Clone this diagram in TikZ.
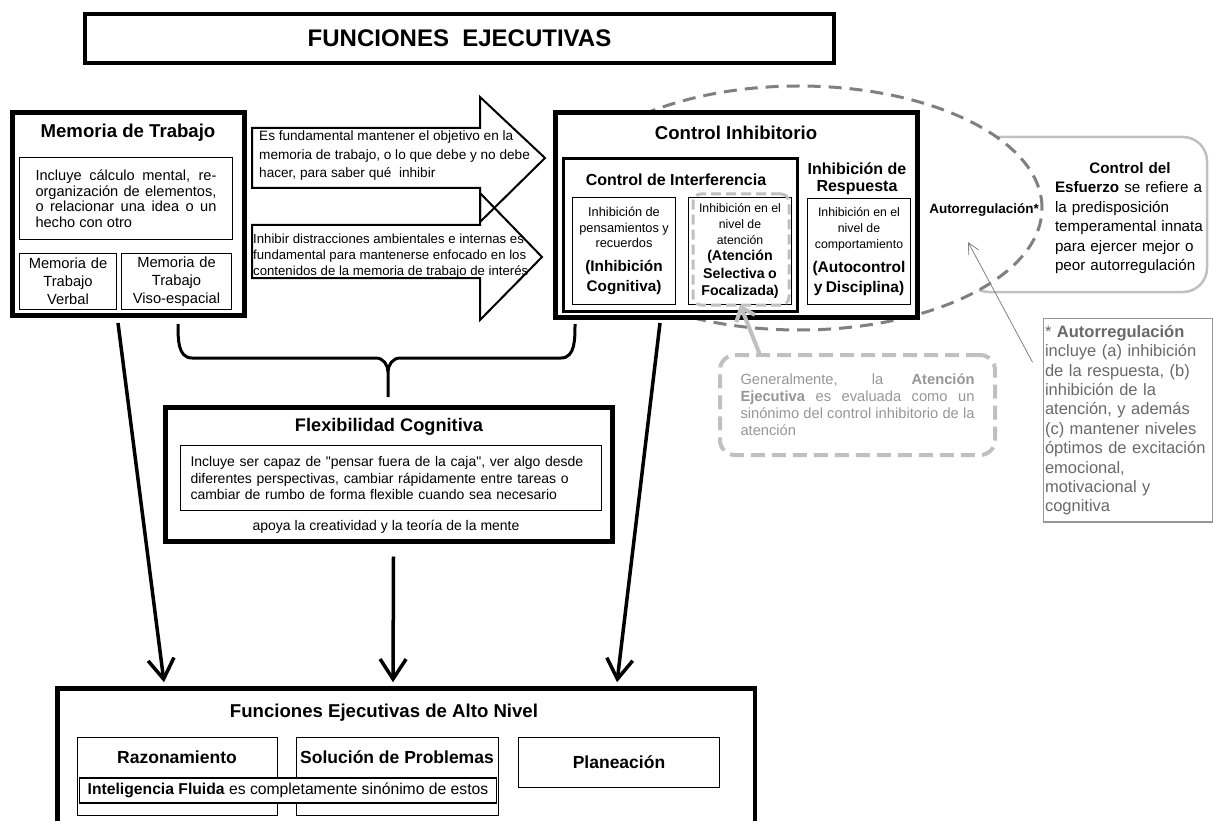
\documentclass[tikz,border=0pt]{standalone}
\usepackage{fontspec}
\setmainfont{Liberation Sans}
\usepackage{tikz}
\usetikzlibrary{arrows.meta,shapes.geometric}
\usepackage{xcolor}
\definecolor{ringgray}{RGB}{128,128,128}
\definecolor{softgray}{RGB}{192,192,192}
\definecolor{notegray}{RGB}{105,105,105}
\definecolor{palegray}{RGB}{150,150,150}
\newcommand{\setfs}[2]{\fontsize{#1}{#2}\selectfont}

\begin{document}
\begin{tikzpicture}[
    x=1pt, y=-1pt,
    frame/.style={rectangle, draw, line width=4.5pt, fill=white,
        inner sep=0pt, outer sep=0pt, anchor=north west},
    cell/.style={rectangle, draw, line width=1pt, fill=white,
        inner sep=0pt, outer sep=0pt, anchor=north west},
    txt/.style={inner sep=0pt, align=center},
    heading/.style={font=\bfseries\setfs{18.6}{22}},
    banner/.style={draw, line width=2pt, line join=miter},
    bigarrow/.style={line width=3.5pt, -{Straight Barb[length=20pt,width=26pt]}}
]
    \useasboundingbox (0,0) rectangle (1213,821);

    % title
    \node[frame, line width=4pt, minimum width=749pt, minimum height=49pt,
        font=\bfseries\setfs{24}{28}] (title) at (85,14) {FUNCIONES\ \ EJECUTIVAS};

    % effortful control and the self-regulation ring
    \node[draw=softgray, line width=2.5pt, rounded corners=24pt, anchor=north west,
        inner sep=0pt, outer sep=0pt, minimum width=242pt, minimum height=155pt] (effort) at (965,137) {};
    \node[ellipse, draw=ringgray, fill=white, line width=3pt, dash pattern=on 13pt off 8pt,
        minimum width=486pt, minimum height=244pt] (selfreg) at (799,208) {};

    % the two wide arrows
    \draw[banner] (252,128) -- (480,128) -- (480,97) -- (545,158) -- (480,222) -- (480,188) -- (252,188) -- cycle;
    \draw[banner] (252,225) -- (480,225) -- (480,193) -- (542,257) -- (480,320) -- (480,278) -- (252,278) -- cycle;
    \node[txt, anchor=west, align=left, font=\setfs{13.6}{18.3}] (goaltxt) at (259,155.5)
        {Es fundamental mantener el objetivo en la\\memoria de trabajo, o lo que debe y no debe\\hacer, para saber qué\ \ inhibir};
    \node[txt, anchor=west, align=left, font=\setfs{13.2}{16.3}] (focustxt) at (253,256)
        {Inhibir distracciones ambientales e internas es\\fundamental para mantenerse enfocado en los\\contenidos de la memoria de trabajo de interés};

    % working memory
    \node[frame, line width=5pt, minimum width=232pt, minimum height=203pt] (mem) at (12.5,112.5) {};
    \node[txt, heading] (memhead) at (128,133) {Memoria de Trabajo};
    \node[cell, minimum width=213pt, minimum height=82pt, text width=181pt, align=justify,
        font=\setfs{14.6}{15.5}] (memtxt) at (19.5,157.5)
        {Incluye cálculo mental, re-\linebreak organización de elementos,\linebreak o relacionar una idea o un\linebreak hecho con otro\par};
    \node[cell, minimum width=97pt, minimum height=56pt, text width=95pt, align=center,
        font=\setfs{14.7}{18}] (verbal) at (19.5,253.5) {Memoria de\\Trabajo\\Verbal};
    \node[cell, minimum width=110pt, minimum height=56pt, text width=108pt, align=center,
        font=\setfs{14.7}{18}] (visual) at (121.5,253.5) {Memoria de\\Trabajo\\Viso-espacial};

    % inhibitory control
    \node[frame, line width=5pt, minimum width=362pt, minimum height=205pt] (inhib) at (555.5,112.5) {};
    \node[txt, heading] (inhibhead) at (736,133) {Control Inhibitorio};
    \node[frame, line width=3pt, minimum width=234pt, minimum height=153pt] (interf) at (563.5,158.5) {};
    \node[txt, font=\bfseries\setfs{16}{19}] (interfhead) at (676,180) {Control de Interferencia};
    \node[txt, font=\bfseries\setfs{16}{17.5}] (resphead) at (857,179) {Inhibición de\\Respuesta};
    \node[cell, minimum width=103pt, minimum height=107pt, text width=101pt, align=center] (cog) at (572.5,197.5)
        {\setfs{12.8}{15.5}Inhibición de\\pensamientos y\\recuerdos\par\vspace{4pt}\setfs{15.3}{20}\bfseries(Inhibición\\Cognitiva)\par};
    \node[cell, minimum width=103pt, minimum height=107pt, text width=101pt, align=center] (att) at (688.5,197.5)
        {\setfs{12.3}{16}Inhibición en el\\nivel de\\atención\par\vspace{-1pt}\setfs{14.2}{17.5}\bfseries(Atención\\Selectiva o\\Focalizada)\par};
    \node[draw=softgray, line width=3pt, dash pattern=on 10pt off 5pt, rounded corners=8pt,
        anchor=north west, inner sep=0pt, outer sep=0pt, minimum width=96pt, minimum height=111pt] (attmark) at (693,194) {};
    \node[cell, minimum width=103pt, minimum height=106pt, text width=101pt, align=center] (resp) at (807.5,198.5)
        {\setfs{12.3}{16}Inhibición en el\\nivel de\\comportamiento\par\vspace{4pt}\setfs{15.5}{20}\bfseries(Autocontrol\\y Disciplina)\par};

    \node[txt, font=\bfseries\setfs{13.5}{16}] (autoreg) at (984,210) {Autorregulación*};
    \node[txt, text width=150pt, align=left, font=\setfs{15.2}{19.4}] (efforttxt) at (1130,218)
        {\makebox[150pt][c]{\bfseries Control del}\\\textbf{Esfuerzo} se refiere a\\la predisposición\\temperamental innata\\para ejercer mejor o\\peor autorregulación};

    % footnote on self-regulation
    \node[cell, draw=palegray, line width=1.5pt, minimum width=169pt, minimum height=203.5pt,
        text width=166pt, align=left, text=notegray, font=\setfs{16.5}{19.4}] (note) at (1043.5,318.5)
        {\hyphenpenalty=10000 * \textbf{Autorregulación}\\incluye (a) inhibición\\de la respuesta, (b)\\inhibición de la\\atención, y además\\(c) mantener niveles\\óptimos de excitación\\emocional,\\motivacional y\\cognitiva};
    \coordinate (autotip) at (968,242);
    \draw[ringgray, line width=0.8pt, -{Straight Barb[length=11pt,width=11pt]}]
        ([xshift=-11pt,yshift=58pt]note.west) -- (autotip);

    % executive attention remark
    \node[draw=softgray, line width=4pt, dash pattern=on 14pt off 7pt, rounded corners=15pt,
        anchor=north west, inner sep=0pt, outer sep=0pt, minimum width=275pt, minimum height=100pt,
        text width=234pt, align=justify, text=palegray, font=\setfs{14.7}{17}] (attnote) at (720,355)
        {Generalmente, la \textbf{Atención}\linebreak \textbf{Ejecutiva} es evaluada como un\linebreak sinónimo del control inhibitorio de la\linebreak atención};
    \draw[softgray, line width=4pt, -{Straight Barb[length=12pt,width=20pt]}]
        ([xshift=40pt]attnote.north west) -- (att.south);

    % brace into flexibility
    \coordinate (braceL) at (178,324);
    \coordinate (braceR) at (575,324);
    \coordinate (braceM) at (388,397);
    \draw[line width=3pt] (braceL) to[out=-90,in=180] (192,358) -- (376,358) to[out=0,in=90] (388,372) -- (braceM)
        (388,372) to[out=90,in=180] (400,358) -- (561,358) to[out=0,in=-90] (braceR);

    % cognitive flexibility
    \node[frame, line width=5pt, minimum width=447pt, minimum height=134pt] (flex) at (165.5,407.5) {};
    \node[txt, font=\bfseries\setfs{18.2}{22}] (flexhead) at (389,427) {Flexibilidad Cognitiva};
    \node[cell, minimum width=421pt, minimum height=65pt, text width=401pt, align=left,
        font=\setfs{14}{16.3}] (flextxt) at (180.5,445.5)
        {Incluye ser capaz de \textquotedbl pensar fuera de la caja\textquotedbl, ver algo desde\\diferentes perspectivas, cambiar rápidamente entre tareas o\\cambiar de rumbo de forma flexible cuando sea necesario};
    \node[txt, font=\setfs{14}{16}] (flexfoot) at (386,527) {apoya la creatividad y la teoría de la mente};

    % higher-level executive functions
    \node[frame, line width=4.5pt, minimum width=697.5pt, minimum height=150pt] (hi) at (57.25,688.25) {};
    \node[txt, font=\bfseries\setfs{18.6}{22}] (hihead) at (384,713) {Funciones Ejecutivas de Alto Nivel};
    \node[cell, line width=1.2pt, minimum width=200pt, minimum height=78pt] (reason) at (77.5,737.5) {};
    \node[txt, font=\bfseries\setfs{17.5}{21}] (reasonhead) at (177,757) {Razonamiento};
    \node[cell, line width=1.2pt, minimum width=202pt, minimum height=78pt] (solve) at (296.5,737.5) {};
    \node[txt, font=\bfseries\setfs{17.5}{21}] (solvehead) at (397,757) {Solución de Problemas};
    \node[cell, line width=1.2pt, minimum width=201pt, minimum height=50pt,
        font=\bfseries\setfs{17.5}{21}] (plan) at (518.5,737.5) {Planeación};
    \node[cell, line width=1.2pt, minimum width=417pt, minimum height=25pt,
        font=\setfs{15.7}{19}] (fluid) at (79.5,778) {\textbf{Inteligencia Fluida} es completamente sinónimo de estos};

    % arrows down
    \draw[bigarrow] ([xshift=-10.5pt,yshift=-7.5pt]mem.south) -- ([xshift=-242pt,yshift=6pt]hi.north);
    \draw[bigarrow] ([xshift=4.5pt,yshift=-15pt]flex.south) -- ([xshift=-13pt,yshift=6pt]hi.north);
    \draw[bigarrow] ([xshift=-76.5pt,yshift=-5.5pt]inhib.south) -- ([xshift=211pt,yshift=6pt]hi.north);
\end{tikzpicture}
\end{document}
